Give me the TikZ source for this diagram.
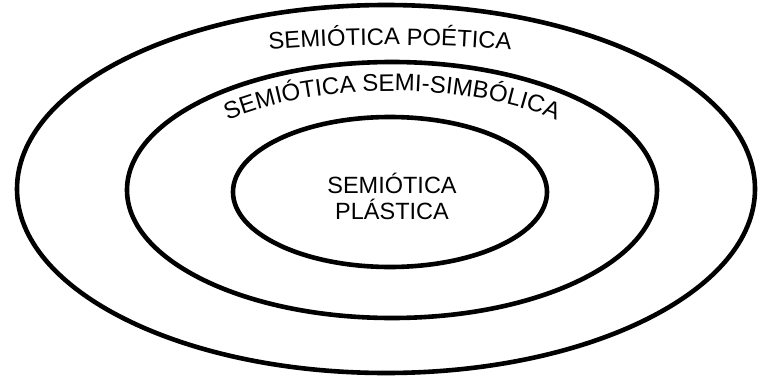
\documentclass[tikz,border=0pt]{standalone}
\usepackage{fontspec}
\setmainfont{Liberation Sans}
\usetikzlibrary{decorations.text}

\tikzset{ring/.style={line width=4.6pt}}

\begin{document}
\begin{tikzpicture}[x=1pt,y=1pt,every node/.style={font=\fontsize{23.5}{26}\selectfont}]
\useasboundingbox (0,0) rectangle (758,376);
% the three rings
\draw[ring] (386,187) ellipse[x radius=369, y radius=184];
\draw[ring] (392,186) ellipse[x radius=265, y radius=128];
\draw[ring] (390,184) ellipse[x radius=157, y radius=75];
% curved labels
\path[decorate, decoration={text along path, text align=center,
  text={|\fontsize{23.8}{26}\selectfont|SEMIÓTICA POÉTICA}}]
  (390,187) ++(180:460 and 144) arc[start angle=180, end angle=0, x radius=460, y radius=144];
\path[decorate, decoration={text along path, text align=center,
  text={|\fontsize{24}{26}\selectfont|SEMIÓTICA SEMI-SIMBÓLICA}}]
  (392,186) ++(180:232 and 99) arc[start angle=180, end angle=0, x radius=232, y radius=99];
% centre label
\node[align=center] (plastica) at (392,180) {SEMIÓTICA\\PLÁSTICA};
\end{tikzpicture}
\end{document}
